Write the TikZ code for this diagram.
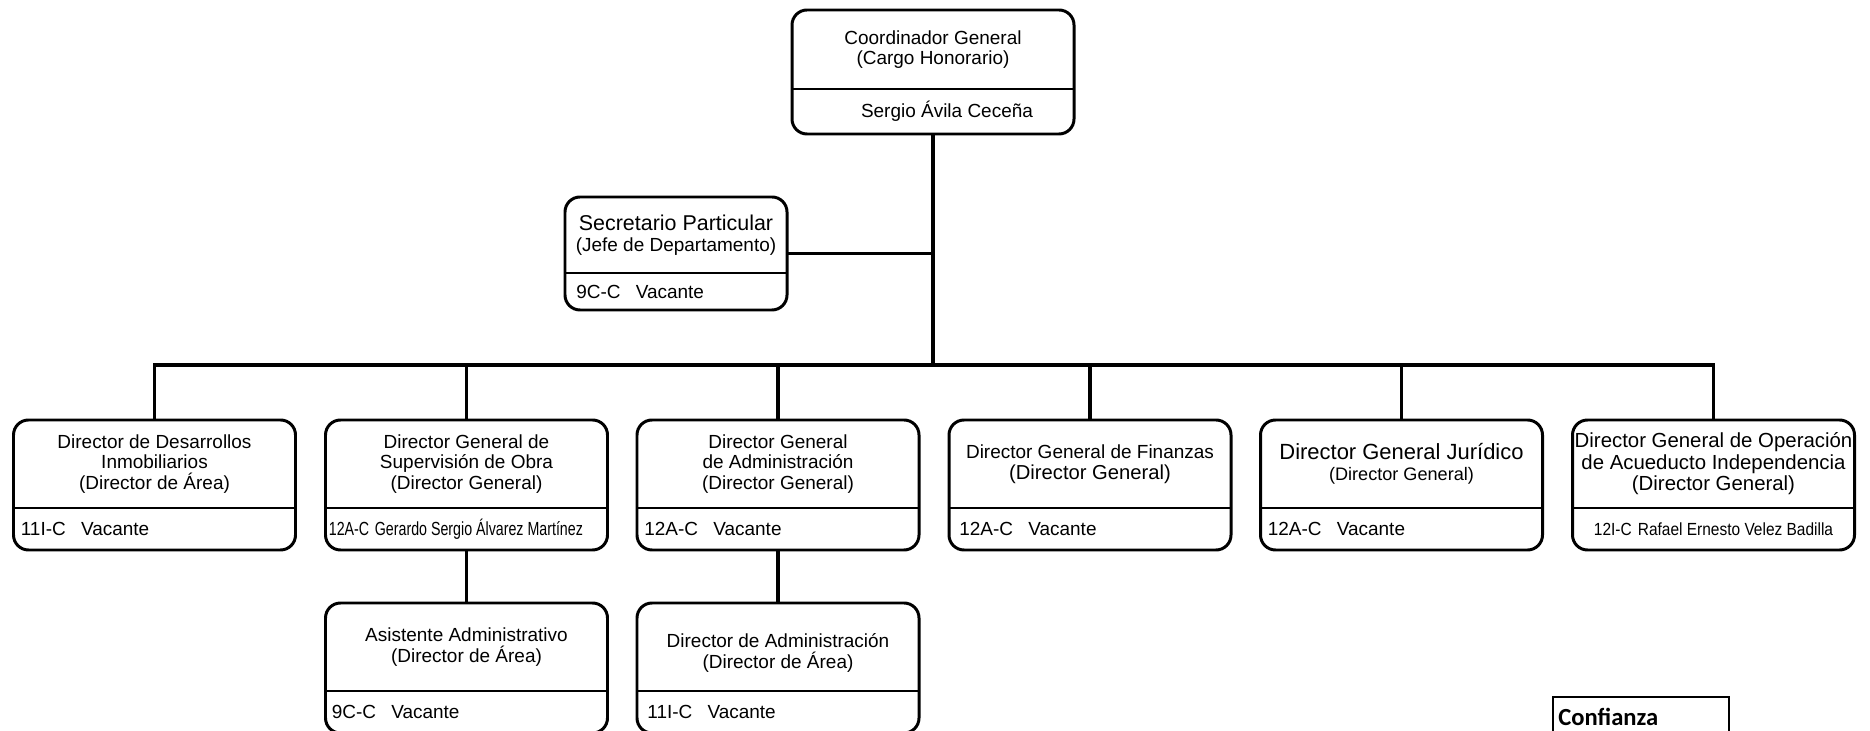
\documentclass[tikz,border=0pt]{standalone}
\usepackage{fontspec}
\setmainfont{Liberation Sans}
\newfontfamily\legendfont{Carlito}

\begin{document}
\begin{tikzpicture}[>=latex,
	box/.style={draw, rounded corners=0.3cm, line width=1.7pt, minimum width=5.64cm, minimum height=2.6cm, inner sep=0pt, outer sep=0pt},
	divider/.style={line width=0.8pt},
	link/.style={line width=2.2pt},
	sidelink/.style={line width=1.2pt},
	title/.style={align=center, inner sep=0pt, font=\fontsize{10.8}{11.8}\selectfont},
	code/.style={anchor=west, inner sep=0pt, font=\fontsize{10.8}{11.8}\selectfont}]
	\useasboundingbox (0,0) rectangle (37.4,14.6);
	%\draw [help lines] (0,0) grid (37,14);

	% Coordinador
	\node [box, minimum height=2.48cm] (coord) at (18.66,13.16) {};
	\draw [divider] ([yshift=-0.34cm]coord.west) -- ([yshift=-0.34cm]coord.east);
	\node [title] (coord-t) at ([yshift=0.45cm]coord.center) {Coordinador General\\(Cargo Honorario)};
	\node [title] (coord-b) at ([xshift=0.28cm, yshift=-0.79cm]coord.center) {Sergio Ávila Ceceña};

	% Secretario
	\node [box, minimum width=4.44cm, minimum height=2.26cm] (secr) at (13.52,9.53) {};
	\draw [divider] ([yshift=-0.39cm]secr.west) -- ([yshift=-0.39cm]secr.east);
	\node [title] (secr-t) at ([yshift=0.37cm]secr.center) {{\fontsize{12.2}{13}\selectfont Secretario Particular}\\(Jefe de Departamento)};
	\node [code] (secr-b) at ([xshift=0.22cm, yshift=-0.76cm]secr.west) {9C-C\hspace{0.8em}Vacante};

	% Direcciones
	\node [box] (desa) at (3.09,4.9) {};
	\node [box] (supe) at (9.33,4.9) {};
	\node [box] (admi) at (15.56,4.9) {};
	\node [box] (fina) at (21.80,4.9) {};
	\node [box] (juri) at (28.03,4.9) {};
	\node [box] (acue) at (34.27,4.9) {};
	\node [box] (asis) at (9.33,1.24) {};
	\node [box] (dira) at (15.56,1.24) {};
	\foreach \n in {desa,supe,admi,fina,juri,acue,asis,dira}
		\draw [divider] ([yshift=-0.46cm]\n.west) -- ([yshift=-0.46cm]\n.east);

	\node [title] (desa-t) at ([yshift=0.42cm]desa.center) {Director de Desarrollos\\Inmobiliarios\\(Director de Área)};
	\node [code] (desa-b) at ([xshift=0.14cm, yshift=-0.88cm]desa.west) {11I-C\hspace{0.8em}Vacante};

	\node [title] (supe-t) at ([yshift=0.42cm]supe.center) {Director General de\\Supervisión de Obra\\(Director General)};
	\node [code] (supe-b) at ([xshift=0.06cm, yshift=-0.88cm]supe.west) {\scalebox{0.75}[1]{12A-C\hspace{0.4em}Gerardo Sergio Álvarez Martínez}};

	\node [title] (admi-t) at ([yshift=0.42cm]admi.center) {Director General\\de Administración\\(Director General)};
	\node [code] (admi-b) at ([xshift=0.14cm, yshift=-0.88cm]admi.west) {12A-C\hspace{0.8em}Vacante};

	\node [title] (fina-t) at ([yshift=0.42cm]fina.center) {Director General de Finanzas\\{\fontsize{11.5}{12}\selectfont (Director General)}};
	\node [code] (fina-b) at ([xshift=0.2cm, yshift=-0.88cm]fina.west) {12A-C\hspace{0.8em}Vacante};

	\node [title] (juri-t) at ([yshift=0.42cm]juri.center) {{\fontsize{12.5}{13.5}\selectfont Director General Jurídico}\\{\fontsize{10.3}{11.5}\selectfont (Director General)}};
	\node [code] (juri-b) at ([xshift=0.14cm, yshift=-0.88cm]juri.west) {12A-C\hspace{0.8em}Vacante};

	\node [title, font=\fontsize{11.6}{12.2}\selectfont] (acue-t) at ([yshift=0.42cm]acue.center) {Director General de Operación\\de Acueducto Independencia\\(Director General)};
	\node [title] (acue-b) at ([yshift=-0.88cm]acue.center) {\scalebox{0.88}[1]{\fontsize{10}{11}\selectfont 12I-C\hspace{0.4em}Rafael Ernesto Velez Badilla}};

	\node [title] (asis-t) at ([yshift=0.42cm]asis.center) {Asistente Administrativo\\(Director de Área)};
	\node [code] (asis-b) at ([xshift=0.12cm, yshift=-0.88cm]asis.west) {9C-C\hspace{0.8em}Vacante};

	\node [title] (dira-t) at ([yshift=0.3cm]dira.center) {Director de Administración\\(Director de Área)};
	\node [code] (dira-b) at ([xshift=0.2cm, yshift=-0.88cm]dira.west) {11I-C\hspace{0.8em}Vacante};

	% Lineas
	\coordinate (bus) at (18.66,7.3);
	\draw [link] (coord.south) -- (bus);
	\draw [sidelink] (secr.east) -- (secr.east -| bus);
	\draw [link] (desa.north) |- (bus) -| (acue.north);
	\foreach \n in {supe,admi,fina,juri}
		\draw [link] (\n.north) -- (\n.north |- bus);
	\draw [link] (supe.south) -- (asis.north);
	\draw [link] (admi.south) -- (dira.north);

	% Confianza
	\node [draw, line width=1.1pt, anchor=north west, minimum width=3.52cm, minimum height=1.2cm, inner sep=0pt, outer sep=0pt] (legend) at (31.06,0.66) {};
	\node [anchor=base west, inner sep=0pt, font=\legendfont\bfseries\fontsize{14}{16}\selectfont] (legend-t) at ([xshift=0.1cm, yshift=-0.56cm]legend.north west) {Confianza};
\end{tikzpicture}
\end{document}
